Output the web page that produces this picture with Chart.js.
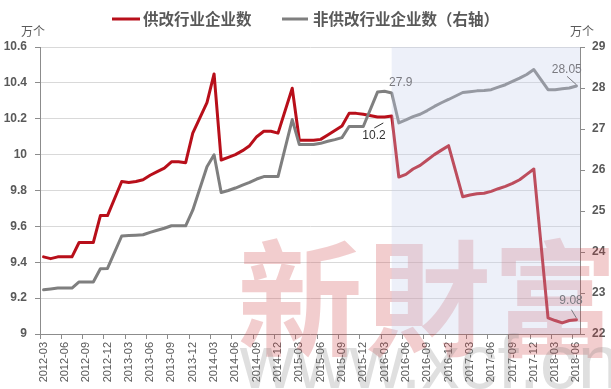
<!DOCTYPE html>
<html>
<head>
<meta charset="utf-8">
<script src="https://cdn.jsdelivr.net/npm/chart.js@4.4.1/dist/chart.umd.min.js"></script>
<style>
html, body { margin: 0; padding: 0; background: #fff; }
#chart { display: block; }
</style>
</head>
<body>
<canvas id="chart" width="611" height="389"></canvas>
<script>
// 月份（2012-03 至 2018-06），1月无单独数据
const months = [
    '2012-03', '2012-04', '2012-05', '2012-06', '2012-07', '2012-08', '2012-09', '2012-10', '2012-11', '2012-12',
    '2013-01', '2013-02', '2013-03', '2013-04', '2013-05', '2013-06', '2013-07', '2013-08', '2013-09', '2013-10', '2013-11', '2013-12',
    '2014-01', '2014-02', '2014-03', '2014-04', '2014-05', '2014-06', '2014-07', '2014-08', '2014-09', '2014-10', '2014-11', '2014-12',
    '2015-01', '2015-02', '2015-03', '2015-04', '2015-05', '2015-06', '2015-07', '2015-08', '2015-09', '2015-10', '2015-11', '2015-12',
    '2016-01', '2016-02', '2016-03', '2016-04', '2016-05', '2016-06', '2016-07', '2016-08', '2016-09', '2016-10', '2016-11', '2016-12',
    '2017-01', '2017-02', '2017-03', '2017-04', '2017-05', '2017-06', '2017-07', '2017-08', '2017-09', '2017-10', '2017-11', '2017-12',
    '2018-01', '2018-02', '2018-03', '2018-04', '2018-05', '2018-06'
];

// 供改行业企业数（万个，左轴）
const supplyReform = [
    9.43, 9.42, 9.43, 9.43, 9.43, 9.51, 9.51, 9.51, 9.66, 9.66,
    null, 9.85, 9.845, 9.85, 9.86, 9.885, 9.905, 9.925, 9.96, 9.96, 9.955, 10.12,
    null, 10.29, 10.45, 9.97, 9.985, 10.0, 10.022, 10.05, 10.10, 10.13, 10.13, 10.12,
    null, 10.37, 10.08, 10.08, 10.08, 10.085, 10.11, 10.135, 10.16, 10.23, 10.23, 10.225,
    null, 10.21, 10.21, 10.215, 9.875, 9.89, 9.92, 9.94, 9.97, 10.0, 10.025, 10.05,
    null, 9.765, 9.775, 9.782, 9.785, 9.795, 9.81, 9.823, 9.84, 9.86, 9.89, 9.92,
    null, 9.09, 9.075, 9.062, 9.075, 9.08
];

// 非供改行业企业数（万个，右轴）
const nonSupplyReform = [
    23.08, 23.10, 23.12, 23.12, 23.12, 23.27, 23.27, 23.27, 23.59, 23.60,
    null, 24.39, 24.40, 24.41, 24.42, 24.48, 24.53, 24.58, 24.64, 24.64, 24.64, 25.02,
    null, 26.08, 26.37, 25.45, 25.50, 25.56, 25.63, 25.70, 25.78, 25.84, 25.84, 25.84,
    null, 27.23, 26.62, 26.62, 26.62, 26.65, 26.70, 26.74, 26.79, 27.06, 27.06, 27.06,
    null, 27.90, 27.92, 27.88, 27.15, 27.22, 27.30, 27.36, 27.45, 27.55, 27.64, 27.72,
    null, 27.89, 27.91, 27.93, 27.94, 27.96, 28.02, 28.08, 28.16, 28.24, 28.33, 28.45,
    null, 27.96, 27.96, 27.98, 28.00, 28.05
];

// 坐标轴范围
const leftAxis = { min: 9, max: 10.6, step: 0.2 };
const rightAxis = { min: 22, max: 29, step: 1 };

// 阴影区起点（2016-04 之后）
const shadeFrom = 49;

// 数据标签
const dataLabels = [
    { series: 0, index: 48, text: '10.2', color: '#333333', dx: -10.6, dy: 18.7, lead: [-10.3, 11, -1.3, 6] },
    { series: 1, index: 49, text: '27.9', color: '#7a7a80', dx: 9, dy: -10, lead: null },
    { series: 1, index: 75, text: '28.05', color: '#7a7a80', dx: -9.7, dy: -15.8, lead: [-9.4, -9.6, -0.1, -1.3] },
    { series: 0, index: 75, text: '9.08', color: '#7a7a80', dx: -5.4, dy: -19, lead: [-5.1, -10, -0.1, -1.7] }
];

const RED = '#B80F1A';
const GRAY = '#7F7F7F';
const AXIS_COLOR = '#8c8c8c';
const TEXT_COLOR = '#595959';
const CJK = '"Noto Sans CJK SC", "Liberation Sans", sans-serif';
const NUM = '"Liberation Sans", Arial, sans-serif';

const decorPlugin = {
    id: 'decor',
    beforeDraw(chart) {
        const ctx = chart.ctx;
        ctx.save();
        ctx.fillStyle = '#ffffff';
        ctx.fillRect(0, 0, chart.width, chart.height);
        ctx.restore();
    },
    beforeDatasetsDraw(chart) {
        // 水印
        const ctx = chart.ctx;
        ctx.save();
        ctx.fillStyle = 'rgba(205, 60, 65, 0.26)';
        ctx.font = 'bold 125px "Noto Sans CJK TC", sans-serif';
        ctx.textAlign = 'center';
        ctx.textBaseline = 'middle';
        [['新', 300], ['財', 428], ['富', 555]].forEach(([ch, x]) => ctx.fillText(ch, x, 298));
        ctx.fillStyle = 'rgba(120, 120, 120, 0.24)';
        ctx.font = '76px "Liberation Sans", sans-serif';
        ctx.textAlign = 'left';
        ctx.textBaseline = 'alphabetic';
        ctx.fillText('www.xcf.cn', 240, 388);
        ctx.restore();
    },
    afterDatasetsDraw(chart) {
        const ctx = chart.ctx;
        const area = chart.chartArea;
        const xScale = chart.scales.x;

        // 阴影区
        const sx = xScale.getPixelForValue(shadeFrom);
        ctx.save();
        ctx.fillStyle = 'rgba(200, 208, 235, 0.32)';
        ctx.fillRect(sx, area.top, area.right - sx, area.bottom - area.top);
        ctx.restore();

        // 数据标签
        ctx.save();
        ctx.font = '12px ' + NUM;
        ctx.textAlign = 'center';
        ctx.textBaseline = 'middle';
        dataLabels.forEach(lbl => {
            const ds = chart.data.datasets[lbl.series];
            const yScale = chart.scales[ds.yAxisID];
            const px = xScale.getPixelForValue(lbl.index);
            const py = yScale.getPixelForValue(ds.data[lbl.index]);
            ctx.fillStyle = lbl.color;
            ctx.fillText(lbl.text, px + lbl.dx, py + lbl.dy);
            if (lbl.lead) {
                ctx.strokeStyle = lbl.color;
                ctx.lineWidth = 1;
                ctx.beginPath();
                ctx.moveTo(px + lbl.lead[0], py + lbl.lead[1]);
                ctx.lineTo(px + lbl.lead[2], py + lbl.lead[3]);
                ctx.stroke();
            }
        });
        ctx.restore();
    },
    afterDraw(chart) {
        const ctx = chart.ctx;
        ctx.save();

        // 图例
        ctx.font = 'bold 15.5px ' + CJK;
        ctx.textBaseline = 'middle';
        ctx.textAlign = 'left';
        const legendY = 19;
        const items = [
            { ds: chart.data.datasets[0], x0: 112, x1: 140, tx: 143 },
            { ds: chart.data.datasets[1], x0: 282, x1: 308, tx: 313 }
        ];
        items.forEach(it => {
            ctx.fillStyle = it.ds.borderColor;
            ctx.fillRect(it.x0, legendY - 1.5, it.x1 - it.x0, 3);
            ctx.fillStyle = TEXT_COLOR;
            ctx.fillText(it.ds.label, it.tx, legendY);
        });

        // 单位
        ctx.font = '12px ' + CJK;
        ctx.textAlign = 'center';
        ctx.fillText('万个', 33, 31);
        ctx.fillText('万个', 582, 31);
        ctx.restore();
    }
};

new Chart(document.getElementById('chart'), {
    type: 'line',
    data: {
        labels: months,
        datasets: [
            {
                label: '供改行业企业数',
                data: supplyReform,
                yAxisID: 'y',
                borderColor: RED,
                borderWidth: 3,
                pointRadius: 0,
                spanGaps: true,
                tension: 0,
                borderJoinStyle: 'round',
                borderCapStyle: 'round',
                order: 1
            },
            {
                label: '非供改行业企业数（右轴）',
                data: nonSupplyReform,
                yAxisID: 'y1',
                borderColor: GRAY,
                borderWidth: 3,
                pointRadius: 0,
                spanGaps: true,
                tension: 0,
                borderJoinStyle: 'round',
                borderCapStyle: 'round',
                order: 0
            }
        ]
    },
    options: {
        responsive: false,
        animation: false,
        devicePixelRatio: 1,
        layout: { padding: { top: 47, left: 0, right: 0, bottom: 0 } },
        plugins: {
            legend: { display: false },
            tooltip: { enabled: false }
        },
        scales: {
            x: {
                type: 'category',
                offset: true,
                border: { display: true, color: AXIS_COLOR, width: 1 },
                grid: {
                    offset: true,
                    drawOnChartArea: false,
                    drawTicks: true,
                    tickLength: 5,
                    tickColor: (c) => (c.index % 3 === 0 ? AXIS_COLOR : 'rgba(0,0,0,0)')
                },
                ticks: {
                    autoSkip: false,
                    minRotation: 90,
                    maxRotation: 90,
                    padding: 3,
                    color: TEXT_COLOR,
                    font: { family: NUM, size: 11 },
                    callback: function (value, index) {
                        return index % 3 === 0 ? this.getLabelForValue(value) : '';
                    }
                },
                afterFit: (scale) => { scale.height = 55; }
            },
            y: {
                position: 'left',
                min: leftAxis.min,
                max: leftAxis.max,
                border: { display: true, color: AXIS_COLOR, width: 1 },
                grid: {
                    color: '#d9d9d9',
                    lineWidth: 1,
                    tickLength: 5,
                    tickColor: AXIS_COLOR
                },
                ticks: {
                    stepSize: leftAxis.step,
                    padding: 8,
                    color: TEXT_COLOR,
                    font: { family: NUM, size: 12, weight: 'bold' },
                    callback: (v) => String(Number(v.toFixed(1)))
                },
                afterFit: (scale) => { scale.width = 40; }
            },
            y1: {
                position: 'right',
                min: rightAxis.min,
                max: rightAxis.max,
                border: { display: true, color: AXIS_COLOR, width: 1 },
                grid: {
                    drawOnChartArea: false,
                    tickLength: 5,
                    tickColor: AXIS_COLOR
                },
                ticks: {
                    stepSize: rightAxis.step,
                    padding: 7,
                    color: TEXT_COLOR,
                    font: { family: NUM, size: 12, weight: 'bold' }
                },
                afterFit: (scale) => { scale.width = 31; }
            }
        }
    },
    plugins: [decorPlugin]
});
</script>
</body>
</html>
